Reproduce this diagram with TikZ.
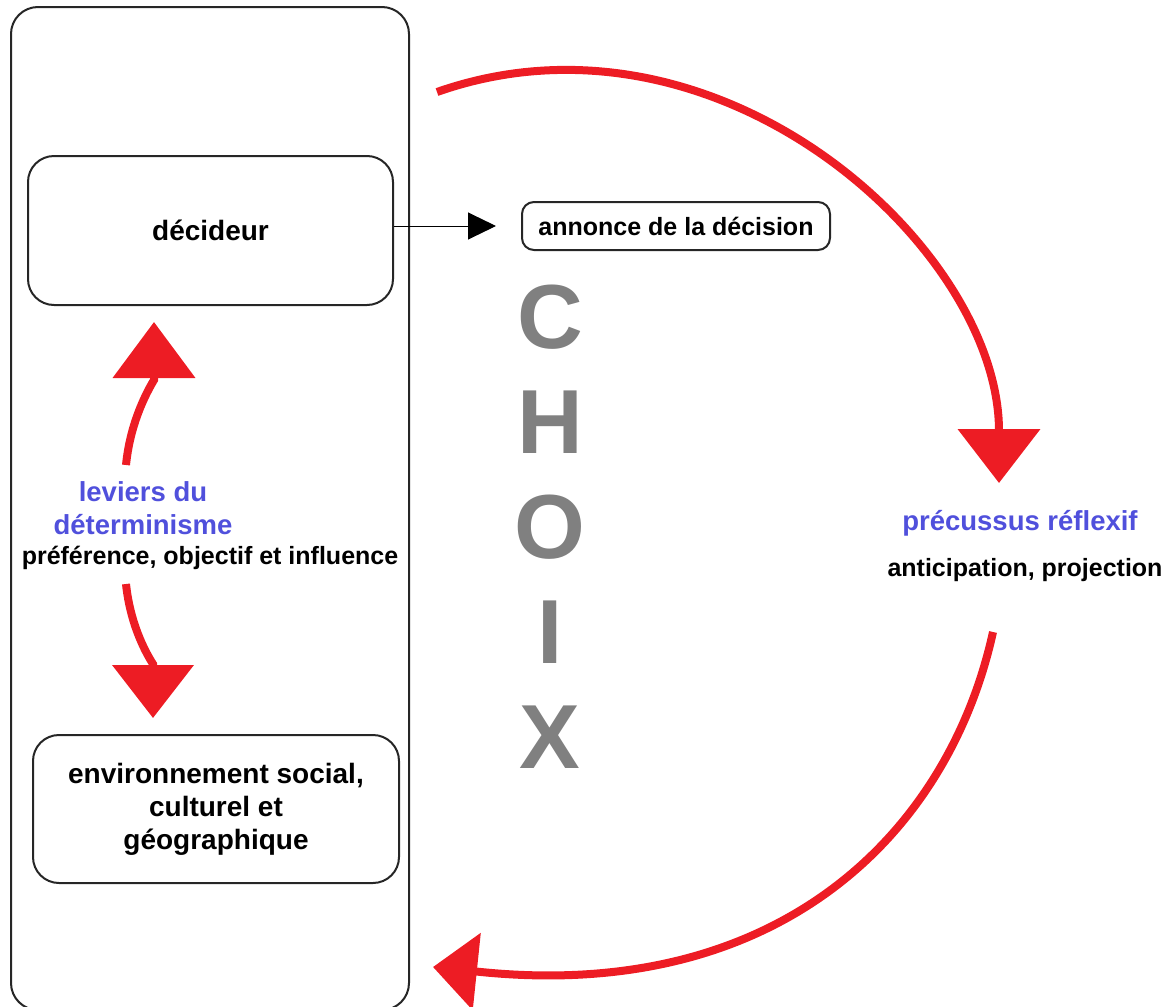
\documentclass[tikz,border=0pt]{standalone}
\usepackage{fontspec}
\setmainfont{Liberation Sans}
\usetikzlibrary{arrows.meta}

\definecolor{paintred}{HTML}{ED1C24}
\definecolor{paintblue}{RGB}{80,80,220}
\definecolor{choixgray}{RGB}{128,128,128}

\begin{document}
\begin{tikzpicture}[x=0.5pt, y=-0.5pt,
    box/.style={draw=black!85, line width=1pt, rounded corners=13pt, inner sep=0pt, align=center,
                font=\bfseries\fontsize{14}{16.5}\selectfont},
    note/.style={inner sep=0pt, font=\bfseries\fontsize{12.5}{15}\selectfont},
    levier/.style={inner sep=0pt, align=center, text=paintblue, font=\bfseries\fontsize{13.75}{16.5}\selectfont},
    choix/.style={inner sep=0pt, text=choixgray, font=\bfseries\fontsize{45.5}{50}\selectfont},
    redline/.style={draw=paintred, line width=4pt}]
            \useasboundingbox (0,0) rectangle (1174,1007);

            \node[box, rounded corners=13.5pt, minimum width=199pt, minimum height=501.5pt] (cadre) at (210,508.5) {};
            \node[box, minimum width=182.5pt, minimum height=74.5pt] (decideur) at (210.5,230.5) {décideur};
            \node[box, minimum width=183pt, minimum height=74pt] (milieu) at (216,809) {environnement social,\\culturel et\\géographique};
            \node[box, note, draw=black!85, rounded corners=6pt, minimum width=154pt, minimum height=24pt] (annonce) at (676,226) {annonce de la décision};

            \foreach \ch [count=\k] in {C,H,O,I,X} {
                \node[choix] (choix\k) at (550,{317+105*(\k-1)}) {\ch};
            }

            \node[levier] (leviers) at (143,508) {leviers du\\déterminisme};
            \node[note] (prefs) at (210,558) {préférence, objectif et influence};
            \node[levier] (precussus) at (1020,523) {précussus réflexif};
            \node[note] (anticip) at (1025,570) {anticipation, projection};

            \draw[-{Triangle[width=13.5pt,length=14pt]}, line width=0.5pt, shorten >=12.5pt] (decideur.east |- annonce.west) -- (annonce.west);

            \coordinate (hautdepart) at (437,92);
            \coordinate (hautfin) at (999,483);
            \coordinate (basdepart) at (993,632);
            \coordinate (basbase) at (481,972);
            \coordinate (basfin) at (433,967);
            \draw[redline, -{Triangle[width=40.5pt,length=27pt]}] (hautdepart) .. controls +(282,-99) and +(0,-235) .. (hautfin);
            \draw[redline, -{Triangle[width=38pt,length=22pt]}] (basdepart) .. controls +(-44,200) and +(300,30) .. (basbase) -- (basfin);

            \coordinate (levhaut) at (126,465);
            \coordinate (levhautbase) at (154,380);
            \coordinate (levhautpointe) at (154,322);
            \coordinate (levbas) at (126,584);
            \coordinate (levbasbase) at (153,664);
            \coordinate (levbaspointe) at (153,718);
            \draw[redline, -{Triangle[width=40.5pt,length=28pt]}] (levhaut) .. controls (130,425) and (145,395) .. (levhautbase) -- (levhautpointe);
            \draw[redline, -{Triangle[width=40pt,length=26.5pt]}] (levbas) .. controls (130,622) and (144,650) .. (levbasbase) -- (levbaspointe);
        \end{tikzpicture}
\end{document}
